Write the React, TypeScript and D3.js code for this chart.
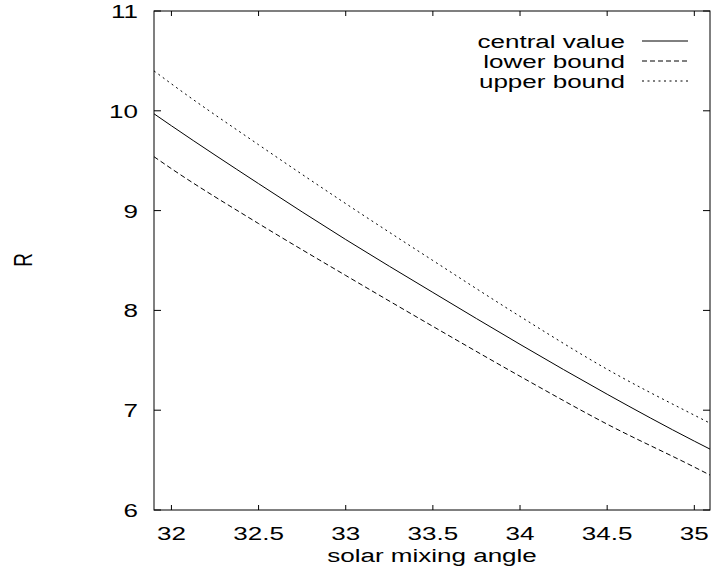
import React from "react";
import * as d3 from "d3";

const angles = [31.9, 32.0, 32.5, 33.0, 33.5, 34.0, 34.5, 35.0, 35.09];
const centralValues = [9.97, 9.85, 9.27, 8.71, 8.18, 7.66, 7.16, 6.69, 6.61];
const lowerValues = [9.54, 9.42, 8.87, 8.35, 7.84, 7.34, 6.86, 6.43, 6.35];
const upperValues = [10.4, 10.27, 9.66, 9.07, 8.5, 7.94, 7.41, 6.95, 6.87];

const xTicks = [32, 32.5, 33, 33.5, 34, 34.5, 35];
const yTicks = [6, 7, 8, 9, 10, 11];
const seriesNames = ["central value", "lower bound", "upper bound"];
const seriesDash = ["none", "5,3", "2,3.5"];

const W = 711;
const H = 573;
const L = 154, R = 710, T = 11, B = 510;
const FONT = "'Liberation Sans', Arial, Helvetica, sans-serif";
const FS = 19;
const SX = 1.37;

function Txt({ x, y, anchor, children }: { x: number; y: number; anchor: string; children: React.ReactNode }) {
  return (
    <text transform={`translate(${x},${y}) scale(${SX},1)`} textAnchor={anchor} fontSize={FS} fill="#000">
      {children}
    </text>
  );
}

export default function App() {
  const x = d3.scaleLinear().domain([31.9, 35.09]).range([L, R]);
  const y = d3.scaleLinear().domain([6, 11]).range([B, T]);
  const line = d3
    .line<[number, number]>()
    .x((d) => x(d[0]))
    .y((d) => y(d[1]))
    .curve(d3.curveMonotoneX);
  const all = [centralValues, lowerValues, upperValues];
  const tlx = 5;
  const tly = 7;
  return (
    <svg width={W} height={H} style={{ position: "absolute", left: 0, top: 0, background: "#fff" }} fontFamily={FONT}>
      <rect x={0} y={0} width={W} height={H} fill="#fff" />
      <defs>
        <clipPath id="clip">
          <rect x={L} y={T} width={R - L} height={B - T} />
        </clipPath>
      </defs>
      <g clipPath="url(#clip)">
        {all.map((vals, i) => (
          <path
            key={i}
            d={line(angles.map((a, j) => [a, vals[j]] as [number, number])) || ""}
            fill="none"
            stroke="#000"
            strokeWidth={1}
            strokeDasharray={seriesDash[i]}
          />
        ))}
      </g>
      {xTicks.map((t) => (
        <g key={"x" + t}>
          <line x1={x(t)} x2={x(t)} y1={B} y2={B - tlx} stroke="#000" />
          <line x1={x(t)} x2={x(t)} y1={T} y2={T + tlx} stroke="#000" />
          <Txt x={x(t)} y={540} anchor="middle">
            {t}
          </Txt>
        </g>
      ))}
      {yTicks.map((t) => (
        <g key={"y" + t}>
          <line x1={L} x2={L + tly} y1={y(t)} y2={y(t)} stroke="#000" />
          <line x1={R} x2={R - tly} y1={y(t)} y2={y(t)} stroke="#000" />
          <Txt x={L - 16} y={y(t) + 7} anchor="end">
            {t}
          </Txt>
        </g>
      ))}
      <rect x={L} y={T} width={R - L} height={B - T} fill="none" stroke="#000" strokeWidth={1} />
      <Txt x={(L + R) / 2} y={562} anchor="middle">
        solar mixing angle
      </Txt>
      <text transform={`translate(32,260) scale(${SX},1) rotate(-90)`} textAnchor="middle" fontSize={FS}>
        R
      </text>
      {seriesNames.map((n, i) => (
        <g key={n}>
          <Txt x={625} y={48 + i * 20} anchor="end">
            {n}
          </Txt>
          <line x1={642} x2={688} y1={41 + i * 20} y2={41 + i * 20} stroke="#000" strokeDasharray={seriesDash[i]} />
        </g>
      ))}
    </svg>
  );
}
